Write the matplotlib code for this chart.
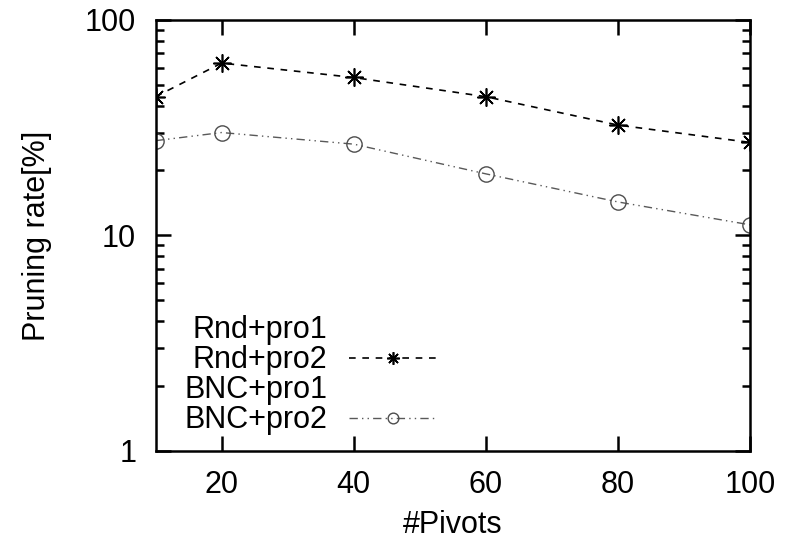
import numpy as np
import matplotlib
matplotlib.use("Agg")
import matplotlib.pyplot as plt
from matplotlib.ticker import FixedLocator, LogLocator, NullFormatter, FixedFormatter

plt.rcParams['font.family'] = ['Liberation Sans', 'DejaVu Sans']

# data
pivots = [10, 20, 40, 60, 80, 100]
rnd_pro2 = [44, 63, 54, 44, 32.5, 27]
bnc_pro2 = [27.5, 30, 26.5, 19.3, 14.3, 11.2]
x_ticks = [20, 40, 60, 80, 100]
y_ticks = [1, 10, 100]
y_tick_labels = ["1", "10", "100"]

fig = plt.figure(figsize=(7.86, 5.5), dpi=100)
ax = fig.add_axes([0.198, 0.18, 0.756, 0.784])

# empty entries (pro1 series have no visible line)
ax.plot([], [], linestyle='none', label="Rnd+pro1")
ax.plot(pivots, rnd_pro2, color='black', linestyle=(0, (4, 4)), linewidth=1.2,
        marker=(8, 2, 0), markersize=13, markeredgewidth=1.2, label="Rnd+pro2")
ax.plot([], [], linestyle='none', label="BNC+pro1")
ax.plot(pivots, bnc_pro2, color='0.35', linestyle=(0, (6, 3, 1, 3, 1, 3)), linewidth=1.0,
        marker='o', markersize=11, markerfacecolor='none', markeredgecolor='0.3',
        markeredgewidth=1.0, label="BNC+pro2")

ax.set_yscale('log')
ax.set_xlim(10, 100)
ax.set_ylim(1, 100)

ax.xaxis.set_major_locator(FixedLocator(x_ticks))
ax.yaxis.set_major_locator(FixedLocator(y_ticks))
ax.yaxis.set_major_formatter(FixedFormatter(y_tick_labels))
ax.yaxis.set_minor_locator(LogLocator(base=10, subs=np.arange(2, 10)))
ax.yaxis.set_minor_formatter(NullFormatter())

ax.tick_params(which='both', direction='in', top=True, right=True, width=1.8,
               labelsize=22)
ax.tick_params(which='major', length=11, pad=14)
ax.tick_params(which='minor', length=6)
for s in ax.spines.values():
    s.set_linewidth(1.8)

ax.set_xlabel("#Pivots", fontsize=22, labelpad=7)
ax.set_ylabel("Pruning rate[%]", fontsize=22, labelpad=24)

ax.legend(loc='lower left', bbox_to_anchor=(0.028, 0.008), frameon=False,
          markerfirst=False, fontsize=22, handlelength=2.9, handletextpad=0.7,
          labelspacing=0.0, borderaxespad=0, markerscale=0.7)

fig.savefig("out.png", dpi=100)
